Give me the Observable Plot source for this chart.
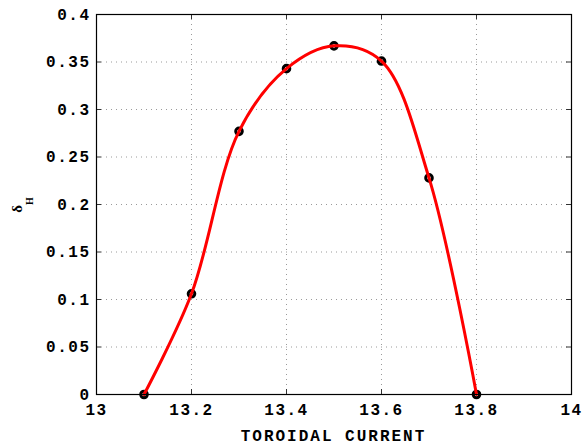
<!DOCTYPE html>
<html>
<head>
<meta charset="utf-8">
<script src="https://cdn.jsdelivr.net/npm/d3@7"></script>
<script src="https://cdn.jsdelivr.net/npm/@observablehq/plot@0.6"></script>
<style>
  html, body { margin: 0; padding: 0; background: #fff; }
  #chart svg { display: block; }
</style>
</head>
<body>
<div id="chart"></div>
<script>
// Data
const current = [13.1, 13.2, 13.3, 13.4, 13.5, 13.6, 13.7, 13.8];
const deltaH  = [0.0, 0.106, 0.277, 0.343, 0.367, 0.351, 0.228, 0.0];
const xTicks = [13, 13.2, 13.4, 13.6, 13.8, 14];
const yTicks = [0, 0.05, 0.1, 0.15, 0.2, 0.25, 0.3, 0.35, 0.4];
const xGrid = [13.2, 13.4, 13.6, 13.8];
const yGrid = [0.05, 0.1, 0.15, 0.2, 0.25, 0.3, 0.35];
const xLabel = "TOROIDAL CURRENT";

const data = current.map((c, i) => ({x: c, y: deltaH[i]}));

const W = 582, H = 447;
const mL = 96, mR = 11, mT = 14, mB = 53;
const plotH = H - mT - mB;
const plotW = W - mL - mR;
const tickLen = 5;
const font = "'Courier New', 'Liberation Mono', monospace";

const chart = Plot.plot({
  width: W,
  height: H,
  marginLeft: mL,
  marginRight: mR,
  marginTop: mT,
  marginBottom: mB,
  style: {fontFamily: font, fontSize: "16px", fontWeight: "bold", background: "#fff", color: "#000"},
  x: {domain: [13, 14]},
  y: {domain: [0, 0.4]},
  marks: [
    // grid
    Plot.ruleX(xGrid, {stroke: "#9a9a9a", strokeWidth: 1, strokeDasharray: "1,4"}),
    Plot.ruleY(yGrid, {stroke: "#9a9a9a", strokeWidth: 1, strokeDasharray: "1,4"}),
    // inward ticks (bottom/top/left/right)
    Plot.tickX(xTicks, {stroke: "#333", insetTop: plotH - tickLen}),
    Plot.tickX(xTicks, {stroke: "#333", insetBottom: plotH - tickLen}),
    Plot.tickY(yTicks, {stroke: "#333", insetRight: plotW - tickLen}),
    Plot.tickY(yTicks, {stroke: "#333", insetLeft: plotW - tickLen}),
    // tick labels
    Plot.axisX(xTicks, {tickSize: 0, tickPadding: 9, tickFormat: d => String(d), label: null,
      fontSize: 16, fontWeight: "bold", fontFamily: font}),
    Plot.axisY(yTicks, {tickSize: 0, tickPadding: 6, tickFormat: d => String(d), label: null,
      fontSize: 16, fontWeight: "bold", fontFamily: font}),
    // data markers
    Plot.dot(data, {x: "x", y: "y", r: 3.3, stroke: "#000", strokeWidth: 3, fill: "none"}),
    // smooth fitted curve
    Plot.line(data, {x: "x", y: "y", curve: "catmull-rom", stroke: "#ff0000", strokeWidth: 3}),
    Plot.frame({stroke: "#000", strokeWidth: 1.2})
  ]
});

const svg = d3.select(chart);
svg.selectAll("text").style("letter-spacing", "1.5px");

// x label
svg.append("text")
  .attr("x", mL + plotW / 2)
  .attr("y", H - 6)
  .attr("text-anchor", "middle")
  .style("font-family", font)
  .style("font-size", "16px")
  .style("font-weight", "bold")
  .style("letter-spacing", "2px")
  .text(xLabel);

// y label: delta with subscript H
const yl = svg.append("text")
  .attr("transform", `translate(22, ${mT + plotH / 2 + 1}) rotate(-90)`)
  .attr("text-anchor", "middle")
  .style("font-family", "'Liberation Serif', 'DejaVu Serif', serif")
  .style("font-size", "15px");
yl.append("tspan").text("δ");
yl.append("tspan").attr("dy", 11).style("font-size", "10px").style("font-weight", "bold").text("H");

document.getElementById("chart").appendChild(chart);
</script>
</body>
</html>
